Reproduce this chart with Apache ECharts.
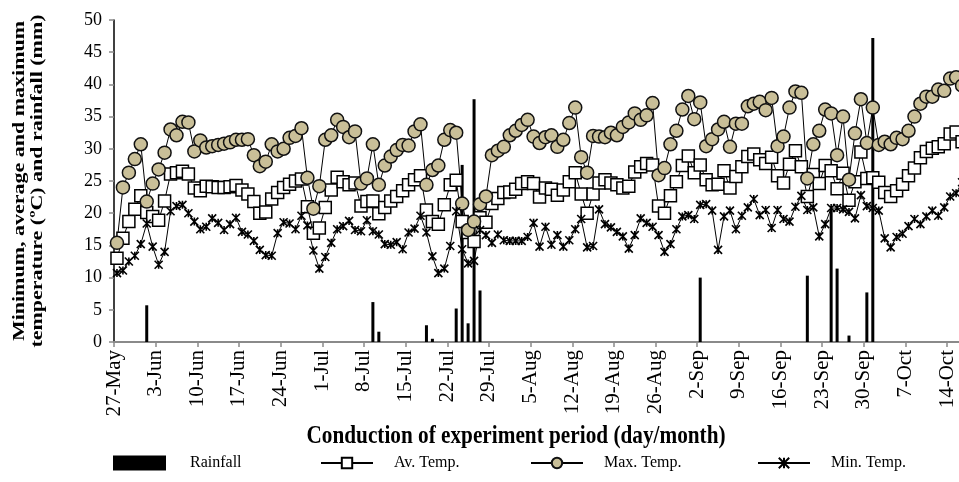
<!DOCTYPE html>
<html>
<head>
<meta charset="utf-8">
<script src="https://cdn.jsdelivr.net/npm/echarts@6/dist/echarts.min.js"></script>
<style>
  html, body { margin: 0; padding: 0; background: #fff; overflow: hidden; }
  /* the plot runs a little past the right edge of the window, as in the original */
  #chart { width: 971px; height: 482px; }
</style>
</head>
<body>
<div id="chart"></div>
<script>
// one tick label per week, day 0 = 27-May
const tickLabels = ['27-May', '3-Jun', '10-Jun', '17-Jun', '24-Jun', '1-Jul', '8-Jul', '15-Jul', '22-Jul', '29-Jul',
  '5-Aug', '12-Aug', '19-Aug', '26-Aug', '2-Sep', '9-Sep', '16-Sep', '23-Sep', '30-Sep', '7-Oct', '14-Oct']

// rainfall (mm), only on rainy days
const rainDay = [5, 43, 44, 52, 53, 57, 58, 59, 60, 61, 98, 116, 120, 121, 123, 126, 127]
const rainMm = [5.7, 6.2, 1.6, 2.6, 0.5, 5.2, 27.5, 2.9, 37.7, 8.0, 10.0, 10.3, 20.5, 11.4, 1.0, 7.7, 47.2]

// daily temperatures (ºC), from 27-May onwards
const avTemp = [
  13.0, 16.1, 18.7, 20.6, 22.7, 20.1, 19.5, 18.9, 21.9, 26.1,
  26.3, 26.5, 26.1, 23.9, 23.5, 24.2, 24.1, 24.0, 24.0, 24.1,
  24.3, 23.6, 23.0, 21.8, 20.0, 20.2, 22.2, 23.2, 24.0, 24.5,
  25.0, 25.3, 21.0, 16.9, 17.7, 20.9, 23.6, 25.6, 24.9, 24.4,
  24.7, 21.1, 21.8, 21.9, 19.9, 20.9, 21.9, 22.6, 23.5, 24.4,
  25.2, 25.8, 20.5, 18.7, 18.3, 21.3, 24.4, 25.1, 18.7, 17.0,
  15.6, 19.3, 18.6, 21.5, 22.3, 23.2, 23.3, 23.7, 24.6, 24.9,
  24.6, 22.5, 23.9, 23.7, 22.8, 23.6, 24.9, 26.3, 23.0, 20.0,
  23.0, 24.7, 25.2, 24.7, 24.4, 23.9, 24.2, 26.4, 27.2, 27.7,
  27.5, 21.1, 20.0, 22.7, 24.9, 27.4, 28.9, 26.3, 27.5, 25.2,
  24.4, 24.5, 26.6, 23.9, 25.7, 27.2, 28.8, 29.2, 28.3, 27.7,
  28.7, 25.8, 24.7, 27.6, 29.7, 27.2, 22.6, 26.0, 24.6, 27.4,
  26.6, 23.8, 26.2, 22.0, 24.9, 29.5, 25.4, 25.5, 24.8, 23.2,
  22.6, 23.5, 24.5, 25.8, 27.0, 28.6, 29.6, 30.1, 30.3, 30.8,
  32.3, 32.6, 31.1
]
const maxTemp = [
  15.4, 24.0, 26.3, 28.4, 30.7, 21.8, 24.6, 26.8, 29.4, 33.0,
  32.1, 34.2, 34.1, 29.6, 31.3, 30.2, 30.4, 30.6, 30.8, 31.0,
  31.4, 31.4, 31.5, 29.0, 27.3, 28.0, 30.7, 29.6, 30.0, 31.7,
  32.0, 33.2, 25.5, 20.7, 24.2, 31.4, 32.1, 34.5, 33.4, 31.8,
  32.7, 24.6, 25.4, 30.7, 24.4, 27.4, 28.8, 29.8, 30.6, 30.5,
  32.7, 33.8, 24.4, 26.7, 27.4, 31.4, 32.9, 32.5, 21.5, 17.4,
  18.7, 21.4, 22.6, 29.0, 29.7, 30.3, 32.1, 32.8, 33.7, 34.5,
  31.9, 30.9, 31.8, 32.1, 30.3, 31.4, 34.0, 36.4, 28.7, 26.3,
  32.0, 31.9, 31.8, 32.5, 32.1, 33.4, 34.1, 35.5, 34.5, 35.2,
  37.1, 25.9, 27.0, 30.7, 32.8, 36.1, 38.2, 34.6, 37.2, 30.4,
  31.5, 33.0, 34.2, 30.3, 33.9, 33.9, 36.6, 37.0, 37.3, 36.0,
  37.9, 30.4, 31.9, 36.4, 38.9, 38.7, 25.4, 30.7, 32.8, 36.1,
  35.5, 29.0, 35.0, 25.2, 32.4, 37.7, 30.9, 36.4, 30.6, 31.1,
  30.7, 31.7, 31.5, 32.8, 35.0, 37.0, 38.1, 38.1, 39.2, 39.0,
  40.9, 41.1, 39.8
]
const minTemp = [
  10.7, 11.1, 12.5, 13.4, 15.2, 18.4, 14.8, 12.0, 14.0, 20.3,
  21.1, 21.3, 20.0, 18.7, 17.5, 17.9, 19.2, 18.5, 17.4, 18.3,
  19.3, 17.1, 16.7, 15.7, 14.3, 13.5, 13.4, 16.9, 18.6, 18.4,
  17.5, 19.6, 18.1, 14.2, 11.4, 13.2, 15.4, 17.5, 18.0, 18.8,
  17.4, 17.2, 18.9, 17.2, 16.7, 15.2, 15.1, 15.5, 14.4, 17.0,
  17.6, 19.6, 17.0, 13.3, 10.7, 11.4, 14.9, 20.3, 14.4, 12.2,
  12.6, 17.4, 16.6, 15.4, 16.7, 15.8, 15.7, 15.7, 15.7, 16.3,
  18.5, 14.8, 17.9, 15.1, 16.6, 14.8, 15.8, 17.5, 19.1, 14.7,
  14.9, 20.6, 18.3, 17.8, 17.1, 16.4, 14.5, 16.6, 19.2, 18.5,
  17.9, 16.6, 14.0, 15.2, 17.5, 19.5, 19.7, 19.1, 21.3, 21.4,
  20.4, 14.3, 19.5, 20.4, 17.5, 19.6, 20.9, 22.2, 19.7, 20.5,
  17.7, 20.5, 19.1, 18.7, 21.0, 22.7, 20.5, 20.9, 16.4, 18.3,
  20.8, 20.8, 20.6, 20.2, 19.2, 22.8, 21.1, 20.8, 20.4, 16.1,
  14.7, 16.3, 16.8, 18.0, 19.1, 18.3, 19.5, 20.4, 19.6, 20.9,
  22.6, 23.1, 24.8
]

const serif = '"Liberation Serif", "Times New Roman", serif'
const starMark = 'path://M0,0L10,10M10,0L0,10M5,0L5,10'

// each day sits in the middle of its slot, ticks fall on the week boundaries
const daily = arr => arr.map((v, i) => [i + 0.5, v])
const rainData = rainDay.map((d, i) => [d + 0.5, rainMm[i]])

const chart = echarts.init(document.getElementById('chart'), null, { renderer: 'canvas' })

const legendBase = {
  top: 455,
  padding: 0,
  itemHeight: 13,
  itemWidth: 52,
  textStyle: { fontFamily: serif, fontSize: 16, color: '#000', padding: [0, 0, 0, 16] },
  selectedMode: false
}

chart.setOption({
  animation: false,
  backgroundColor: '#fff',
  grid: { left: 114, right: 0, top: 20, bottom: 140, containLabel: false },
  legend: [
    { ...legendBase, left: 113, data: [{ name: 'Rainfall', icon: 'rect' }], itemHeight: 15, itemWidth: 53,
      textStyle: { ...legendBase.textStyle, padding: [0, 0, 0, 19] } },
    { ...legendBase, left: 320, data: ['Av. Temp.'] },
    { ...legendBase, left: 530, data: ['Max. Temp.'] },
    { ...legendBase, left: 757, data: ['Min. Temp.'] }
  ],
  xAxis: {
    type: 'value',
    min: 0,
    max: 144,
    interval: 7,
    splitLine: { show: false },
    axisLine: { show: true, onZero: false, lineStyle: { color: '#8a8a8a', width: 2 } },
    axisTick: { show: true, length: 5, lineStyle: { color: '#8a8a8a', width: 1.5 } },
    axisLabel: {
      rotate: 90,
      margin: 8,
      fontFamily: serif,
      fontSize: 21,
      color: '#000',
      showMaxLabel: false,
      formatter: v => (v % 7 === 0 && tickLabels[v / 7]) || ''
    }
  },
  yAxis: {
    type: 'value',
    min: 0,
    max: 50,
    interval: 5,
    splitLine: { show: false },
    axisLine: { show: true, lineStyle: { color: '#000', width: 1.5 } },
    axisTick: { show: true, length: 5, lineStyle: { color: '#8a8a8a', width: 1.5 } },
    axisLabel: { margin: 12, fontFamily: serif, fontSize: 18, color: '#000' }
  },
  graphic: [
    {
      type: 'text',
      x: 29,
      y: 181,
      rotation: Math.PI / 2,
      scaleY: 0.78,
      style: {
        text: 'Minimum, average and maximum\ntemperature (ºC) and rainfall (mm)',
        font: 'bold 22px ' + serif,
        fill: '#000',
        align: 'center',
        verticalAlign: 'middle',
        lineHeight: 23
      }
    },
    {
      type: 'text',
      x: 516,
      y: 437,
      scaleX: 0.85,
      style: {
        text: 'Conduction of experiment period (day/month)',
        font: 'bold 25px ' + serif,
        fill: '#000',
        align: 'center',
        verticalAlign: 'middle'
      }
    }
  ],
  series: [
    {
      name: 'Rainfall',
      type: 'bar',
      data: rainData,
      barWidth: 3,
      itemStyle: { color: '#000' }
    },
    {
      name: 'Av. Temp.',
      type: 'line',
      data: daily(avTemp),
      symbol: 'rect',
      symbolSize: 12,
      lineStyle: { color: '#000', width: 1 },
      itemStyle: { color: '#fff', borderColor: '#000', borderWidth: 1.5 }
    },
    {
      name: 'Max. Temp.',
      type: 'line',
      data: daily(maxTemp),
      symbol: 'circle',
      symbolSize: 13,
      lineStyle: { color: '#000', width: 1 },
      itemStyle: { color: '#c9bf98', borderColor: '#111', borderWidth: 1.5 }
    },
    {
      name: 'Min. Temp.',
      type: 'line',
      data: daily(minTemp),
      symbol: starMark,
      symbolSize: 8,
      lineStyle: { color: '#000', width: 1 },
      itemStyle: { color: '#000', borderColor: '#000', borderWidth: 1.6 }
    }
  ]
})
</script>
</body>
</html>
